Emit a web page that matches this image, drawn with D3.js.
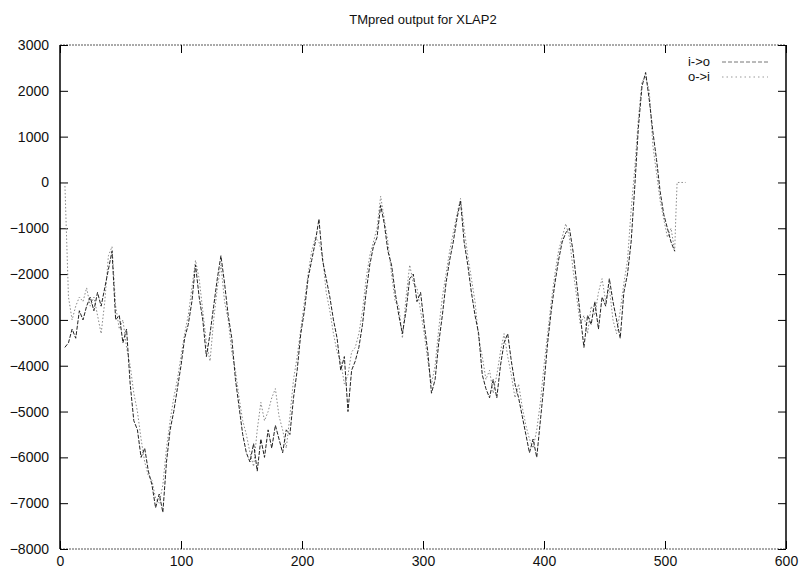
<!DOCTYPE html>
<html>
<head>
<meta charset="utf-8">
<script src="https://cdn.jsdelivr.net/npm/d3@7"></script>
<style>
  body { margin: 0; background: #fff; }
  svg { display: block; }
  text { font-family: "Liberation Sans Narrow", "Arial Narrow", "Liberation Sans", sans-serif; fill: #111; }
</style>
</head>
<body>
<svg id="chart" width="801" height="570"></svg>
<script>
// ---- data ----
const title = "TMpred output for XLAP2";
const seriesNames = ["i->o", "o->i"];
const xTicks = [0, 100, 200, 300, 400, 500, 600];
const yTicks = [3000, 2000, 1000, 0, -1000, -2000, -3000, -4000, -5000, -6000, -7000, -8000];
// residue positions (every 3rd residue, 4..508)
const positions = d3.range(4, 509, 3);
const ioValues = [
  -3600,-3500,-3200,-3400,-2800,-3000,-2700,-2500,-2800,-2400,-2700,-2300,-1900,-1500,-3000,-2900,-3500,-3200,-4400,-5200,
  -5400,-6000,-5800,-6300,-6600,-7100,-6800,-7200,-6100,-5400,-5000,-4500,-4000,-3400,-3100,-2600,-1800,-2500,-3000,-3800,
  -3300,-2700,-2100,-1600,-2200,-2900,-3400,-4300,-4900,-5500,-5900,-6100,-5700,-6300,-5600,-6000,-5400,-5800,-5300,-5600,
  -5900,-5400,-5500,-4700,-4100,-3300,-2800,-2100,-1700,-1300,-800,-1700,-2100,-2500,-3000,-3400,-4100,-3800,-5000,-4100,
  -3900,-3600,-3100,-2400,-1800,-1400,-1200,-500,-900,-1500,-1800,-2400,-2900,-3300,-2800,-2100,-2000,-2600,-2400,-3100,
  -3700,-4600,-4300,-3500,-2900,-2200,-1700,-1300,-800,-400,-1300,-1800,-2400,-2900,-3300,-4200,-4500,-4700,-4300,-4700,
  -4000,-3500,-3300,-3900,-4400,-4700,-5100,-5500,-5900,-5600,-6000,-5200,-4400,-3500,-2800,-2200,-1700,-1300,-1100,-1000,
  -1500,-2200,-2900,-3600,-2900,-3100,-2600,-3200,-2500,-2700,-2100,-2600,-3000,-3400,-2400,-2000,-1300,-100,1200,2100,
  2400,1800,1100,500,-200,-700,-1000,-1300,-1500
];
const oiValues = [
  0,-2500,-3000,-2700,-2500,-2600,-2300,-2700,-2500,-2900,-3300,-2600,-1600,-1400,-2700,-3200,-3000,-3600,-4000,-4600,
  -5000,-5600,-6100,-6400,-6500,-6900,-7000,-6600,-5800,-5200,-4700,-4300,-3800,-3300,-2900,-2300,-1700,-2100,-2800,-3500,
  -3900,-3000,-2300,-1800,-2600,-3000,-3700,-4100,-4700,-5200,-5500,-5900,-6200,-5400,-4800,-5200,-5000,-4700,-4500,-5100,
  -5400,-5800,-5100,-4300,-3800,-3200,-2600,-2000,-1500,-1200,-1300,-1600,-2400,-2800,-3300,-3700,-3900,-4400,-4200,-3700,
  -3600,-3300,-2800,-2100,-1600,-1300,-1000,-300,-800,-1300,-2000,-2600,-2700,-3400,-2500,-1800,-2200,-2300,-2800,-3300,
  -3900,-4400,-4000,-3200,-2500,-2000,-1500,-1100,-700,-350,-1000,-1600,-2100,-2600,-3400,-3800,-4300,-4100,-4600,-4200,
  -3700,-3300,-3800,-4200,-4700,-4400,-4900,-5300,-5600,-5800,-5400,-4800,-4000,-3300,-2600,-2000,-1500,-1200,-900,-1200,
  -1900,-2500,-3100,-2900,-3300,-2700,-2900,-2400,-2100,-2600,-2300,-3000,-3300,-2800,-2200,-1700,-600,300,1400,2200,
  2300,2000,800,200,-400,-800,-1200,-1000,-1500
];
// o->i tail beyond the last window
const oiTailPositions = [509, 510, 517];
const oiTailValues = [-700, 0, 0];

// ---- layout ----
const svg = d3.select("#chart");
const mLeft = 60, mRight = 786, mTop = 45, mBottom = 549;
const x = d3.scaleLinear().domain([0, 600]).range([mLeft, mRight]);
const y = d3.scaleLinear().domain([-8000, 3000]).range([mBottom, mTop]);

svg.append("text")
  .attr("x", (mLeft + mRight) / 2).attr("y", 24)
  .attr("text-anchor", "middle").attr("font-size", 13)
  .text(title);

// frame
svg.append("line").attr("x1", mLeft).attr("x2", mRight).attr("y1", mTop).attr("y2", mTop)
  .attr("stroke", "#555").attr("stroke-width", 1).attr("stroke-dasharray", "2,1");
svg.append("line").attr("x1", mLeft).attr("x2", mRight).attr("y1", mBottom).attr("y2", mBottom)
  .attr("stroke", "#555").attr("stroke-width", 1).attr("stroke-dasharray", "2,1");
svg.append("line").attr("x1", mLeft).attr("x2", mLeft).attr("y1", mTop).attr("y2", mBottom)
  .attr("stroke", "#000").attr("stroke-width", 1.5);
svg.append("line").attr("x1", mRight).attr("x2", mRight).attr("y1", mTop).attr("y2", mBottom)
  .attr("stroke", "#000").attr("stroke-width", 1.5);

// axes (inward ticks)
const tickLen = 8;
const yAxisL = d3.axisLeft(y).tickValues(yTicks).tickSize(-tickLen).tickPadding(11).tickFormat(d3.format("d"));
const gL = svg.append("g").attr("transform", `translate(${mLeft},0)`).call(yAxisL);
const yAxisR = d3.axisRight(y).tickValues(yTicks).tickSize(-tickLen).tickFormat("");
const gR = svg.append("g").attr("transform", `translate(${mRight},0)`).call(yAxisR);
const xAxisB = d3.axisBottom(x).tickValues(xTicks).tickSize(-tickLen).tickPadding(7).tickFormat(d3.format("d"));
const gB = svg.append("g").attr("transform", `translate(0,${mBottom})`).call(xAxisB);
const xAxisT = d3.axisTop(x).tickValues(xTicks).tickSize(-tickLen).tickFormat("");
const gT = svg.append("g").attr("transform", `translate(0,${mTop})`).call(xAxisT);
[gL, gR, gB, gT].forEach(g => {
  g.select(".domain").remove();
  g.selectAll(".tick line").attr("stroke", "#000").attr("stroke-width", 1);
  g.selectAll("text").attr("font-size", 14).attr("fill", "#111")
    .attr("font-family", "'Liberation Sans Narrow', 'Arial Narrow', 'Liberation Sans', sans-serif");
});

// series
const line = d3.line().x(d => x(d[0])).y(d => y(d[1]));
const ioData = positions.map((p, i) => [p, ioValues[i]]);
const oiData = positions.map((p, i) => [p, oiValues[i]])
  .concat(oiTailPositions.map((p, i) => [p, oiTailValues[i]]));

svg.append("path").datum(oiData).attr("d", line)
  .attr("fill", "none").attr("stroke", "#888").attr("stroke-width", 1)
  .attr("stroke-dasharray", "1.5,2");
svg.append("path").datum(ioData).attr("d", line)
  .attr("fill", "none").attr("stroke", "#222").attr("stroke-width", 1)
  .attr("stroke-dasharray", "4,1.5");

// legend
const legend = [
  { name: seriesNames[0], y: 62, stroke: "#777", dash: "4,2" },
  { name: seriesNames[1], y: 77, stroke: "#999", dash: "1.5,3" }
];
legend.forEach(l => {
  svg.append("text").attr("x", 710).attr("y", l.y + 4).attr("text-anchor", "end")
    .attr("font-size", 13).text(l.name);
  svg.append("line").attr("x1", 722).attr("x2", 768).attr("y1", l.y).attr("y2", l.y)
    .attr("stroke", l.stroke).attr("stroke-width", 1).attr("stroke-dasharray", l.dash);
});
</script>
</body>
</html>
